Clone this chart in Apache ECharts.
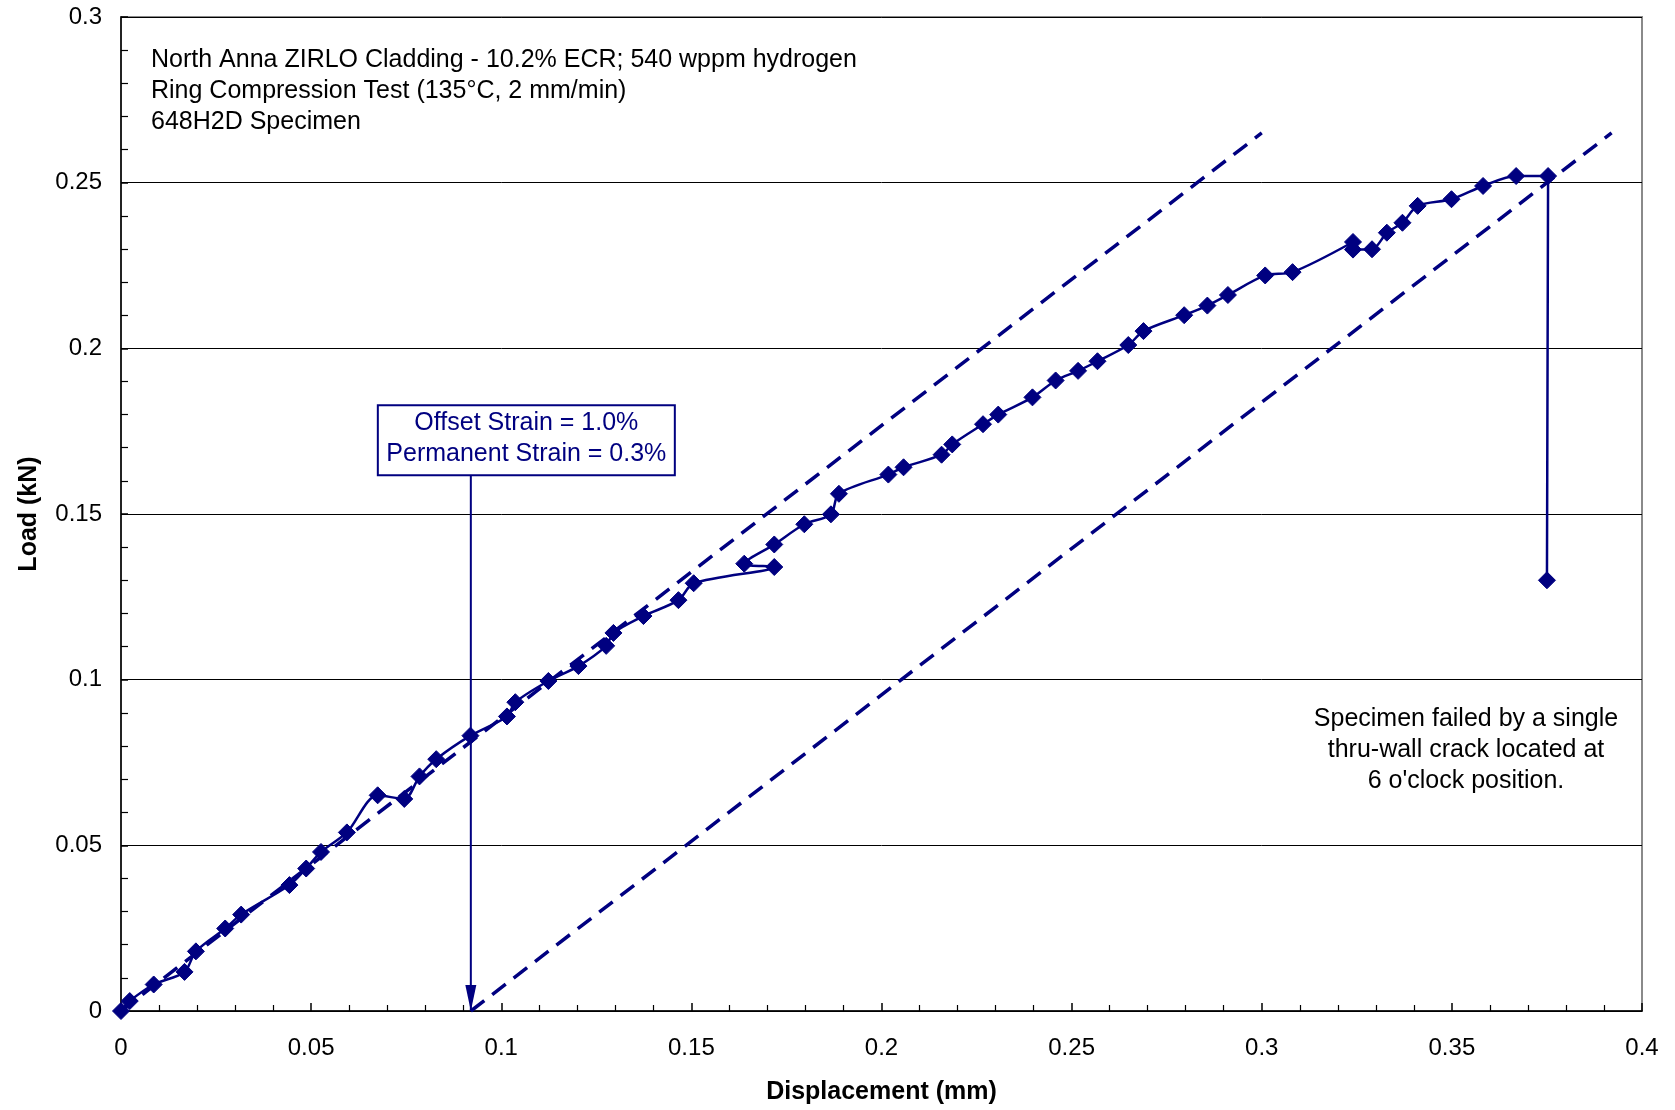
<!DOCTYPE html>
<html>
<head>
<meta charset="utf-8">
<script src="https://cdn.jsdelivr.net/npm/echarts@6/dist/echarts.min.js"></script>
<style>
  html, body { margin: 0; padding: 0; background: #ffffff; }
  #chart { width: 1675px; height: 1110px; }
</style>
</head>
<body>
<div id="chart"></div>
<script>
// Ring compression test record: displacement (mm) vs load (kN)
const displacement = [0, 0.0023, 0.0086, 0.0167, 0.0197, 0.0274, 0.0316, 0.0443, 0.0487, 0.0526,
  0.0594, 0.0675, 0.0745, 0.0785, 0.0829, 0.0919, 0.1015, 0.1037, 0.1124, 0.1203,
  0.1276, 0.1295, 0.1374, 0.1466, 0.1506, 0.1718, 0.1639, 0.1718, 0.1797, 0.1867,
  0.1888, 0.2018, 0.2058, 0.2158, 0.2186, 0.2267, 0.2307, 0.2397, 0.2458, 0.2517,
  0.2568, 0.2649, 0.2689, 0.2796, 0.2857, 0.2911, 0.3009, 0.3081, 0.324, 0.324,
  0.329, 0.3329, 0.337, 0.341, 0.3499, 0.3582, 0.3669, 0.3753, 0.375];
const load = [0, 0.003, 0.008, 0.0118, 0.018, 0.0249, 0.0291, 0.038, 0.043, 0.048,
  0.0539, 0.0651, 0.064, 0.0708, 0.076, 0.0831, 0.0889, 0.0932, 0.0996, 0.1041,
  0.1102, 0.1141, 0.1192, 0.124, 0.1291, 0.134, 0.135, 0.1408, 0.1469, 0.1499,
  0.1561, 0.1619, 0.1641, 0.1679, 0.171, 0.1771, 0.18, 0.1852, 0.1903, 0.1932,
  0.1961, 0.201, 0.2052, 0.21, 0.2129, 0.2161, 0.222, 0.223, 0.2321, 0.2298,
  0.2299, 0.2349, 0.2379, 0.243, 0.245, 0.249, 0.252, 0.252, 0.13];

// Elastic loading line and the parallel offset line
const elasticX = [0, 0.3];
const elasticY = [0, 0.265];
const offsetX = [0.092, 0.392];
const offsetY = [0, 0.265];

// Permanent-displacement marker (arrow down to the axis)
const arrowX = 0.092;
const arrowTopLoad = 0.1617;

const headerLines = [
  'North Anna ZIRLO Cladding - 10.2% ECR; 540 wppm hydrogen',
  'Ring Compression Test (135\u00B0C, 2 mm/min)',
  '648H2D Specimen'
];
const strainLines = ['Offset Strain = 1.0%', 'Permanent Strain = 0.3%'];
const failureLines = ['Specimen failed by a single', 'thru-wall crack located at', "6 o'clock position."];

const NAVY = '#000080';
const FONT = '"Liberation Sans", Arial, Helvetica, sans-serif';

const pair = (xs, ys) => xs.map((x, i) => [x, ys[i]]);

const chart = echarts.init(document.getElementById('chart'), null, { renderer: 'canvas' });

const dashed = { color: NAVY, width: 3.5, type: [17, 10], cap: 'butt' };

const option = {
  animation: false,
  backgroundColor: '#ffffff',
  textStyle: { fontFamily: FONT },
  grid: {
    left: 121, right: 33, top: 17, bottom: 97,
    show: true, borderColor: '#8a8a8a', borderWidth: 2, backgroundColor: 'transparent'
  },
  xAxis: {
    type: 'value', min: 0, max: 0.4, interval: 0.05,
    name: 'Displacement (mm)', nameLocation: 'middle', nameGap: 69,
    nameTextStyle: { fontFamily: FONT, fontSize: 25, fontWeight: 'bold', color: '#000' },
    axisLine: { onZero: false, lineStyle: { color: '#000', width: 1.5 } },
    axisTick: { inside: true, length: 8, lineStyle: { color: '#000', width: 1.5 } },
    minorTick: { show: true, splitNumber: 5, length: 6, lineStyle: { color: '#000', width: 1.2 } },
    axisLabel: { fontFamily: FONT, fontSize: 24, color: '#000', margin: 25 },
    splitLine: { show: false }
  },
  yAxis: {
    type: 'value', min: 0, max: 0.3, interval: 0.05,
    name: 'Load (kN)', nameLocation: 'middle', nameGap: 79,
    nameTextStyle: { fontFamily: FONT, fontSize: 25, fontWeight: 'bold', color: '#000' },
    axisLine: { onZero: false, lineStyle: { color: '#000', width: 1.5 } },
    axisTick: { inside: true, length: 7, lineStyle: { color: '#000', width: 1.5 } },
    minorTick: { show: true, splitNumber: 5, length: 7, lineStyle: { color: '#000', width: 1.2 } },
    axisLabel: { fontFamily: FONT, fontSize: 24, color: '#000', margin: 19 },
    splitLine: { show: true, lineStyle: { color: '#000', width: 1 } }
  },
  series: [
    {
      name: 'Elastic', type: 'line', data: pair(elasticX, elasticY),
      symbol: 'none', silent: true, z: 2, lineStyle: dashed
    },
    {
      name: 'Offset', type: 'line', data: pair(offsetX, offsetY),
      symbol: 'none', silent: true, z: 2, lineStyle: dashed
    },
    {
      // vertical arrow from the call-out box down to the permanent displacement
      name: 'Permanent', type: 'line', silent: true, z: 2,
      data: [
        { value: [arrowX, arrowTopLoad], symbol: 'none' },
        { value: [arrowX, 0], symbol: 'triangle', symbolSize: [11, 26], symbolRotate: 180, symbolOffset: [0, -13] }
      ],
      itemStyle: { color: NAVY },
      lineStyle: { color: NAVY, width: 2 }
    },
    {
      name: 'Load', type: 'line', data: pair(displacement, load),
      smooth: 0.3, symbol: 'diamond', symbolSize: 17, z: 3,
      itemStyle: { color: NAVY, borderColor: NAVY, borderWidth: 1 },
      lineStyle: { color: NAVY, width: 2.5 }
    }
  ]
};
chart.setOption(option);

// Annotation text blocks and the strain call-out box anchored to the arrow
const anchor = chart.convertToPixel({ gridIndex: 0 }, [arrowX, arrowTopLoad]);
const boxW = 297, boxH = 70;
const boxLeft = anchor[0] - 93;
const boxTop = anchor[1] - boxH;

chart.setOption({
  graphic: [
    {
      type: 'text', left: 151, top: 45, silent: true,
      style: { text: headerLines.join('\n'), font: '25px ' + FONT, fill: '#000', lineHeight: 31 }
    },
    {
      type: 'text', x: 1466, y: 704, silent: true,
      style: { text: failureLines.join('\n'), font: '25px ' + FONT, fill: '#000', lineHeight: 31, align: 'center' }
    },
    {
      type: 'rect', x: boxLeft, y: boxTop, silent: true, z: 10,
      shape: { width: boxW, height: boxH },
      style: { fill: '#fff', stroke: NAVY, lineWidth: 2 }
    },
    {
      type: 'text', x: boxLeft + boxW / 2, y: boxTop, silent: true, z: 11,
      style: { text: strainLines.join('\n'), font: '25px ' + FONT, fill: NAVY, lineHeight: 31, align: 'center', padding: [2, 0, 0, 0] }
    }
  ]
});
</script>
</body>
</html>
